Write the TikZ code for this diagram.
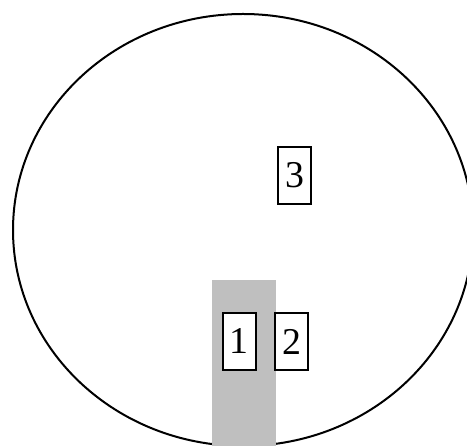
\documentclass[tikz,border=0pt]{standalone}
\usepackage{fontspec}
\setmainfont{Liberation Serif}
\begin{document}
\begin{tikzpicture}[x=1bp,y=1bp,
  numbox/.style={draw=black,line width=2bp,fill=white,minimum width=33bp,minimum height=57bp,inner sep=0pt,font=\fontsize{38}{42}\selectfont}]
\useasboundingbox (0,0) rectangle (467,446);
\begin{scope}
\clip (0,0) rectangle (467,446);
\draw[line width=2bp] (243,216) ellipse [x radius=230, y radius=216];
\end{scope}
\fill[black!25] (212,0) rectangle (276,166);
\node[numbox] (n1) at (239,104.5) {1};
\node[numbox] (n2) at (291.5,104.5) {2};
\node[numbox] (n3) at (294.5,270.5) {3};
\end{tikzpicture}
\end{document}
